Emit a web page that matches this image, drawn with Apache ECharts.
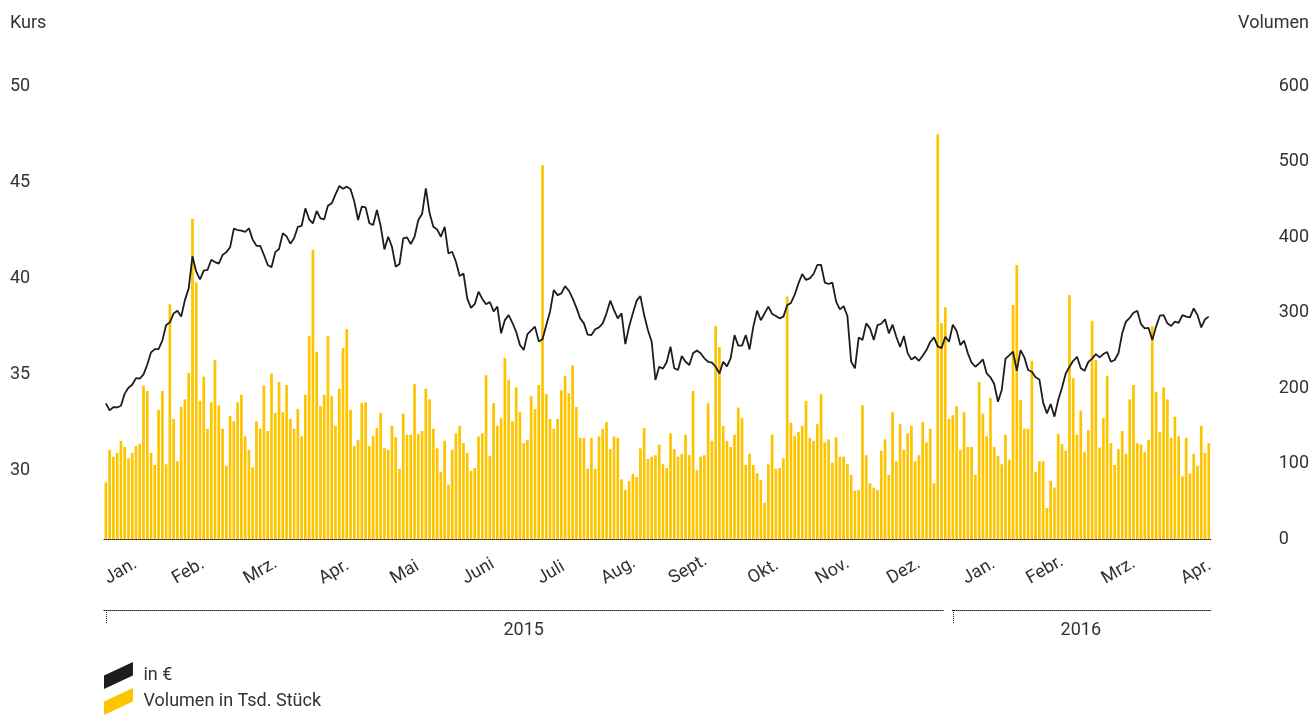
<!DOCTYPE html>
<html><head><meta charset="utf-8">
<script src="https://cdn.jsdelivr.net/npm/echarts@6/dist/echarts.min.js"></script>
<style>html,body{margin:0;padding:0;background:#fff}#c{width:1312px;height:718px}</style>
</head><body><div id="c"></div>
<script>
// Share price (EUR), one value per trading day
const price = [
33.47,33.11,33.28,33.26,33.35,33.98,34.29,34.44,34.79,34.76,
34.98,35.50,36.13,36.30,36.30,36.74,37.55,37.69,38.16,38.30,
37.99,38.85,39.46,41.13,40.33,39.93,40.38,40.42,40.95,40.83,
40.75,41.20,41.35,41.60,42.57,42.50,42.47,42.40,42.59,42.00,
41.68,41.67,41.20,40.68,40.56,41.35,41.51,42.33,42.17,41.79,
42.07,42.67,42.71,43.63,43.06,42.85,43.49,43.11,43.06,43.77,
43.89,44.36,44.79,44.65,44.76,44.62,43.98,43.02,43.72,43.68,
42.85,42.76,43.54,42.71,
41.49,42.15,41.63,40.59,40.73,42.07,42.12,41.77,42.15,43.02,
43.33,44.67,43.37,42.67,42.53,42.15,42.67,41.28,41.37,40.85,
40.10,40.24,38.94,38.44,38.65,39.29,38.91,38.63,38.75,38.26,
38.51,37.12,37.81,38.07,37.67,37.20,36.51,36.25,37.08,37.27,
37.47,36.70,36.81,37.55,38.25,39.38,39.11,39.20,39.58,39.34,
38.94,38.46,37.90,37.64,37.05,37.03,37.33,37.43,37.64,38.16,
38.82,38.33,37.90,38.16,36.56,37.47,38.16,38.82,39.06,38.07,
37.29,36.68,34.69,
35.38,35.28,35.63,36.42,35.30,35.21,35.94,35.64,35.47,36.08,
36.23,36.08,35.82,35.64,35.59,35.38,35.03,35.64,35.40,35.83,
37.03,36.48,36.48,37.03,36.28,37.47,38.30,37.80,38.16,38.51,
38.13,38.02,37.90,37.99,38.58,38.70,39.13,39.72,40.21,39.90,
39.98,40.21,40.68,40.68,39.76,39.69,39.76,38.77,38.37,38.54,
38.02,35.64,35.30,36.91,36.77,37.64,37.38,36.77,37.55,37.62,
37.85,37.12,37.57,36.93,36.41,36.98,36.09,35.75,35.90,35.69,
35.95,36.25,36.67,36.91,
36.44,36.35,36.94,36.68,37.57,37.26,36.51,36.74,36.08,35.59,
35.38,35.56,35.76,35.03,34.83,34.48,33.56,34.17,35.80,35.97,
36.16,35.17,36.25,35.87,35.21,35.12,34.83,34.72,33.51,32.95,
33.44,32.78,33.65,34.29,35.03,35.38,35.69,35.90,35.30,35.17,
35.63,35.80,36.04,35.87,36.04,36.15,35.64,35.73,36.08,37.12,
37.73,37.93,38.19,38.30,37.60,37.38,37.40,36.77,37.47,38.04,
38.07,37.64,37.50,37.73,37.67,38.07,37.99,37.95,38.42,38.07,
37.43,37.85,37.99
];
// Trading volume (thousand shares)
const volume = [
75,118,109,114,130,122,107,114,123,126,
203,196,114,98,171,196,99,311,159,103,
175,185,220,424,340,183,215,146,181,237,
177,146,97,163,156,181,191,136,118,95,
156,146,203,143,219,167,208,168,204,159,
146,172,136,191,269,383,248,176,191,269,
189,150,199,253,278,171,123,131,180,181,
123,136,147,167,
120,118,150,135,93,166,138,138,205,139,
143,199,185,146,120,89,130,72,118,140,
150,127,114,90,94,136,140,217,110,180,
150,160,240,211,156,201,168,127,131,189,
172,204,495,192,159,146,159,197,216,193,
230,175,134,134,93,134,93,136,146,155,
119,136,134,79,65,77,86,82,120,147,
106,109,111,
125,99,94,140,119,109,113,138,111,196,
91,109,111,180,130,282,254,150,130,122,
138,174,160,98,113,98,87,78,48,99,
138,93,94,107,321,154,136,142,150,183,
134,130,152,192,128,132,101,135,109,109,
99,85,64,65,177,111,74,68,65,117,
132,85,168,103,152,118,140,150,103,111,
155,128,146,74,
536,286,307,159,164,176,118,168,122,122,
85,208,166,136,187,122,110,99,138,105,
310,363,184,146,146,236,89,103,103,41,
77,68,139,126,117,323,213,138,170,115,
144,289,237,121,160,216,127,98,119,143,
113,185,204,127,125,115,131,282,195,142,
201,185,134,162,136,83,134,87,113,97,
150,114,127
];
const monthLabels = ['Jan.','Feb.','Mrz.','Apr.','Mai','Juni','Juli','Aug.','Sept.','Okt.','Nov.','Dez.','Jan.','Febr.','Mrz.','Apr.'];
const monthIdx = [0,18,37,57,76,95,115,132,150,171,189,208,228,245,265,286];
const years = ['2015','2016'];
const yearStartIdx = [0,225];
const yearLabelIdx = [111,259];
const kursTicks = [30,35,40,45,50];
const volTicksMax = 600;

const days = volume.map((_, i) => String(i));
const FONT = 'Roboto';
const TXT = '#333333';

const chart = echarts.init(document.getElementById('c'), null, {renderer: 'canvas'});
chart.setOption({
  animation: false,
  backgroundColor: '#ffffff',
  textStyle: {fontFamily: FONT, color: TXT},
  title: [
    {text: 'Kurs', left: 10, top: 14, padding: 0, textStyle: {fontSize: 18, fontWeight: 'normal', color: TXT, fontFamily: FONT}},
    {text: 'Volumen', right: 3, top: 14, padding: 0, textStyle: {fontSize: 18, fontWeight: 'normal', color: TXT, fontFamily: FONT}}
  ],
  grid: {left: 104, right: 100, top: 86, bottom: 179, containLabel: false},
  legend: {
    left: 104, top: 662, orient: 'vertical', padding: 0, itemWidth: 30, itemHeight: 27, itemGap: -1,
    icon: 'path://M0,14L30,0L30,14L0,28Z', selectedMode: false,
    data: [{name: 'in €'}, {name: 'Volumen in Tsd. Stück'}],
    textStyle: {fontSize: 18, color: TXT, fontFamily: FONT, padding: [0, 0, 0, 5]}
  },
  xAxis: [
    {
      type: 'category', data: days, position: 'bottom', boundaryGap: true,
      axisLine: {show: true, lineStyle: {color: '#1d1d1b', type: 'dotted', width: 1}},
      axisTick: {show: false},
      axisLabel: {
        interval: (i) => monthIdx.includes(i),
        formatter: (v, i) => monthLabels[monthIdx.indexOf(i)] || '',
        rotate: 30, align: 'left', verticalAlign: 'middle', margin: 41,
        fontSize: 18, color: TXT, fontFamily: FONT
      },
      splitLine: {show: false}
    },
    {
      type: 'category', data: days, position: 'bottom', offset: 71, boundaryGap: true,
      axisLine: {show: true, lineStyle: {color: '#1d1d1b', type: 'dotted', width: 1}},
      axisTick: {show: true, alignWithLabel: true, interval: (i) => yearStartIdx.includes(i), length: 13,
                 lineStyle: {color: '#1d1d1b', type: 'dotted', width: 1}},
      axisLabel: {
        interval: (i) => yearLabelIdx.includes(i),
        formatter: (v, i) => years[yearLabelIdx.indexOf(i)] || '',
        margin: 11, fontSize: 18, color: TXT, fontFamily: FONT
      },
      splitLine: {show: false}
    }
  ],
  yAxis: [
    {
      type: 'value', position: 'left', min: 26.41, max: 50,
      axisLine: {show: false}, axisTick: {show: false}, splitLine: {show: false},
      axisLabel: {customValues: kursTicks, align: 'left', margin: 94, fontSize: 18, color: TXT, fontFamily: FONT}
    },
    {
      type: 'value', position: 'right', min: 0, max: volTicksMax, interval: 100,
      axisLine: {show: false}, axisTick: {show: false}, splitLine: {show: false},
      axisLabel: {align: 'left', margin: 68, fontSize: 18, color: TXT, fontFamily: FONT}
    }
  ],
  series: [
    {
      name: 'Volumen in Tsd. Stück', type: 'bar', xAxisIndex: 0, yAxisIndex: 1,
      data: volume, barCategoryGap: '28%', itemStyle: {color: '#fdc400'}, z: 2
    },
    {
      name: 'in €', type: 'line', xAxisIndex: 0, yAxisIndex: 0,
      data: price, symbol: 'none', showSymbol: false, color: '#1d1d1b',
      lineStyle: {color: '#1d1d1b', width: 1.8}, itemStyle: {color: '#1d1d1b'}, z: 3
    }
  ]
});

// small gap between the 2015 and 2016 brackets
const bx = chart.convertToPixel({xAxisIndex: 1}, days[yearStartIdx[1]]);
const by = chart.convertToPixel({yAxisIndex: 1}, 0) + 71;
chart.setOption({
  graphic: [{type: 'rect', shape: {x: bx - 9, y: by - 2, width: 8, height: 4}, style: {fill: '#ffffff'}, z: 100}]
});
</script></body></html>
